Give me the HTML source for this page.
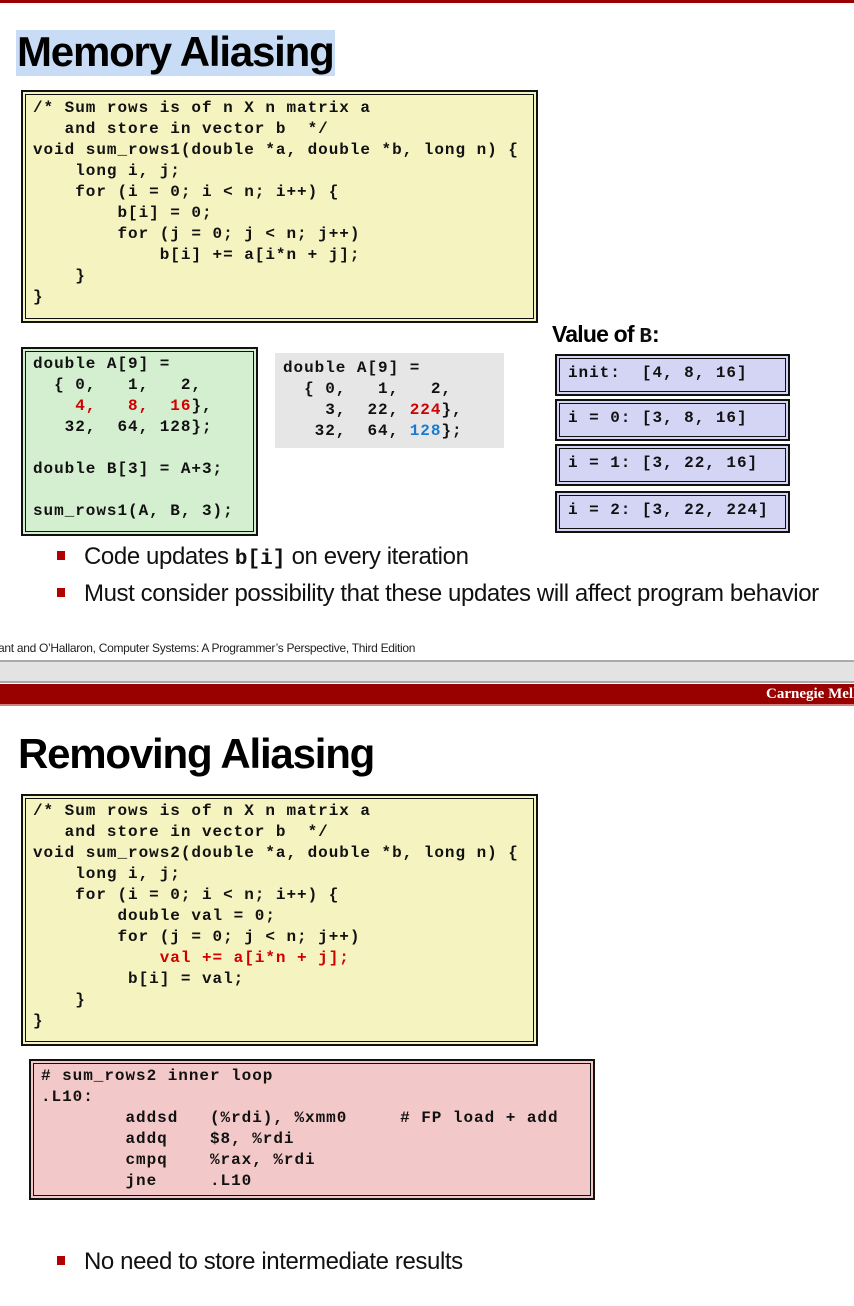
<!DOCTYPE html>
<html><head><meta charset="utf-8"><style>
*{margin:0;padding:0;box-sizing:border-box}
body{width:854px;height:1306px;position:relative;background:#fff;overflow:hidden;font-family:"Liberation Sans",sans-serif}
.a{position:absolute}
pre,.m{font-family:"Liberation Mono",monospace;font-weight:bold;font-size:16px;letter-spacing:0.96px;line-height:21px;color:#111;white-space:pre}
.box{position:absolute;border:4px double #111;outline:1px solid #111}
.title{font-family:"Liberation Sans",sans-serif;font-weight:bold;font-size:42px;letter-spacing:-1.2px;color:#000;line-height:48px}
.bul{font-size:24px;color:#111;letter-spacing:-0.4px;white-space:nowrap}
.sq{position:absolute;width:8px;height:9px;background:#b00000}
.r{color:#d00000}.b{color:#1a7ad0}
.vb{position:absolute;left:556px;width:233px;height:40px;background:#d4d4f5;border:4px double #111;outline:1px solid #111;padding:4px 8px}
</style></head><body>
<div class="a" style="left:0;top:0;width:854px;height:3px;background:#9a0000"></div>
<div class="a" style="left:16px;top:30px;width:319px;height:46px;background:#c9dcf5"></div>
<div class="a title" style="left:17px;top:28px">Memory Aliasing</div>

<div class="box" style="left:22px;top:91px;width:515px;height:231px;background:#f5f3c0"></div>
<pre class="a" style="left:33px;top:98px">/* Sum rows is of n X n matrix a
   and store in vector b  */
void sum_rows1(double *a, double *b, long n) {
    long i, j;
    for (i = 0; i &lt; n; i++) {
        b[i] = 0;
        for (j = 0; j &lt; n; j++)
            b[i] += a[i*n + j];
    }
}</pre>

<div class="a" style="left:552px;top:321px;font-size:23px;font-weight:bold;letter-spacing:-0.8px">Value of <span class="m" style="font-size:21px;letter-spacing:0">B</span>:</div>

<div class="box" style="left:22px;top:348px;width:235px;height:187px;background:#d4efd0"></div>
<pre class="a" style="left:33px;top:354px">double A[9] =
  { 0,   1,   2,
    <span class="r">4,   8,  16</span>},
   32,  64, 128};

double B[3] = A+3;

sum_rows1(A, B, 3);</pre>
<div class="a" style="left:275px;top:353px;width:229px;height:95px;background:#e6e6e6"></div>
<pre class="a" style="left:283px;top:358px">double A[9] =
  { 0,   1,   2,
    3,  22, <span class="r">224</span>},
   32,  64, <span class="b">128</span>};</pre>

<div class="vb" style="top:355px"><span class="m">init:  [4, 8, 16]</span></div>
<div class="vb" style="top:400px"><span class="m">i = 0: [3, 8, 16]</span></div>
<div class="vb" style="top:445px"><span class="m">i = 1: [3, 22, 16]</span></div>
<div class="vb" style="top:492px"><span class="m">i = 2: [3, 22, 224]</span></div>

<div class="sq" style="left:57px;top:551px"></div>
<div class="a bul" style="left:84px;top:543px">Code updates <span class="m" style="font-size:21px;letter-spacing:0">b[i]</span> on every iteration</div>
<div class="sq" style="left:57px;top:588px"></div>
<div class="a bul" style="left:84px;top:580px">Must consider possibility that these updates will affect program behavior</div>

<div class="a" style="left:-2px;top:641px;font-size:12px;color:#222;letter-spacing:-0.3px;white-space:nowrap">ant and O’Hallaron, Computer Systems: A Programmer’s Perspective, Third Edition</div>
<div class="a" style="left:0;top:660px;width:854px;height:23px;background:#e3e3e3;border-top:2px solid #aaa;border-bottom:2px solid #aaa"></div>
<div class="a" style="left:0;top:684px;width:854px;height:22px;background:#990000;border-bottom:2px solid #d08080"></div>
<div class="a" style="left:766px;top:686px;font-family:'Liberation Serif',serif;font-weight:bold;font-size:15px;color:#fff;white-space:nowrap">Carnegie Mellon</div>

<div class="a title" style="left:18px;top:730px">Removing Aliasing</div>
<div class="box" style="left:22px;top:795px;width:515px;height:250px;background:#f5f3c0"></div>
<pre class="a" style="left:33px;top:801px">/* Sum rows is of n X n matrix a
   and store in vector b  */
void sum_rows2(double *a, double *b, long n) {
    long i, j;
    for (i = 0; i &lt; n; i++) {
        double val = 0;
        for (j = 0; j &lt; n; j++)
            <span class="r">val += a[i*n + j];</span>
         b[i] = val;
    }
}</pre>

<div class="box" style="left:30px;top:1060px;width:564px;height:139px;background:#f2c8c8"></div>
<pre class="a" style="left:41px;top:1066px"># sum_rows2 inner loop
.L10:
        addsd   (%rdi), %xmm0     # FP load + add
        addq    $8, %rdi
        cmpq    %rax, %rdi
        jne     .L10</pre>

<div class="sq" style="left:57px;top:1256px"></div>
<div class="a bul" style="left:84px;top:1248px">No need to store intermediate results</div>
</body></html>
